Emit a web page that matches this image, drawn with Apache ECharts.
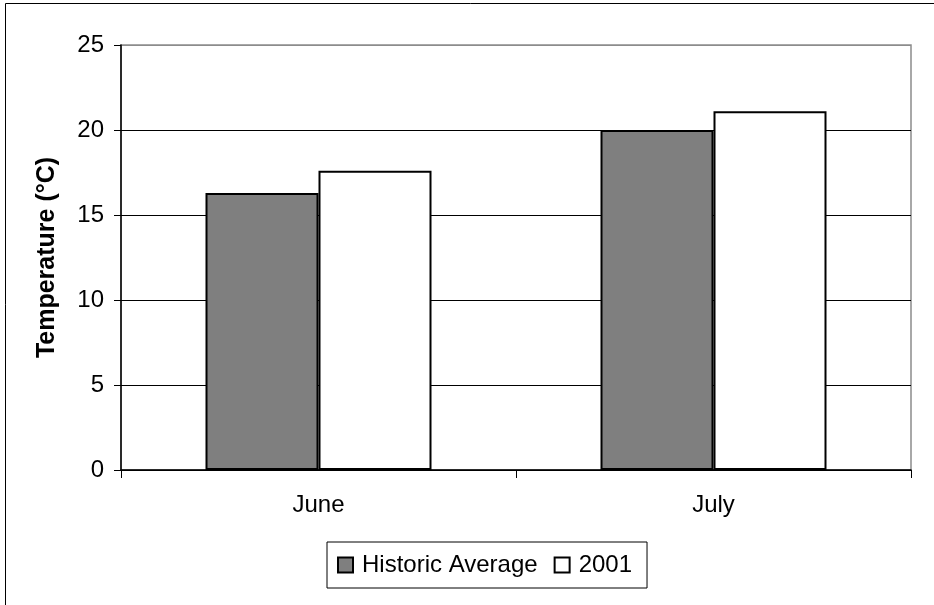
<!DOCTYPE html>
<html>
<head>
<meta charset="utf-8">
<script src="https://cdn.jsdelivr.net/npm/echarts@6/dist/echarts.min.js"></script>
<style>
  html, body { margin: 0; padding: 0; background: #fff; }
  #chart { width: 934px; height: 605px; }
</style>
</head>
<body>
<div id="chart"></div>
<script>
// Monthly mean temperatures
const months = ['June', 'July'];
const historicAverage = [16.3, 20.0];
const year2001 = [17.6, 21.1];
const yTicks = { min: 0, max: 25, interval: 5 };

const FONT = '"Liberation Sans", Arial, sans-serif';

const chart = echarts.init(document.getElementById('chart'), null, { renderer: 'canvas' });

chart.setOption({
  animation: false,
  backgroundColor: '#ffffff',
  textStyle: { fontFamily: FONT, color: '#000' },
  graphic: [{
    type: 'rect',
    shape: { x: 5.5, y: 3.5, width: 1000, height: 1000 },
    style: { fill: 'none', stroke: '#000', lineWidth: 1 },
    silent: true,
    z: 100
  }],
  grid: {
    left: 121, right: 23, top: 45, bottom: 135,
    show: true,
    borderColor: '#8c8c8c',
    borderWidth: 1.5
  },
  legend: {
    left: 327, top: 542,
    padding: [11, 15, 11, 10],
    borderColor: '#000',
    borderWidth: 1,
    itemWidth: 15, itemHeight: 15,
    itemGap: 16,
    icon: 'rect',
    textStyle: { fontFamily: FONT, fontSize: 24, color: '#000', padding: [0, 0, 0, 4] },
    data: ['Historic Average', '2001']
  },
  xAxis: {
    type: 'category',
    data: months,
    axisLine: { lineStyle: { color: '#000', width: 1.5 } },
    axisTick: { show: true, length: 8, lineStyle: { color: '#000' } },
    axisLabel: { fontFamily: FONT, fontSize: 24, color: '#000', margin: 23 }
  },
  yAxis: {
    type: 'value',
    min: yTicks.min, max: yTicks.max, interval: yTicks.interval,
    name: 'Temperature (°C)',
    nameLocation: 'middle',
    nameRotate: 90,
    nameGap: 61,
    nameTextStyle: { fontFamily: FONT, fontSize: 25, fontWeight: 'bold', color: '#000' },
    axisLine: { show: true, lineStyle: { color: '#000', width: 1.5 } },
    axisTick: { show: true, length: 7, lineStyle: { color: '#000' } },
    axisLabel: { fontFamily: FONT, fontSize: 24, color: '#000', margin: 17 },
    splitLine: {
      show: true,
      lineStyle: { color: ['#000', '#000', '#000', '#000', '#000', '#8c8c8c'], width: 1 }
    }
  },
  series: [
    {
      name: 'Historic Average',
      type: 'bar',
      data: historicAverage,
      barWidth: 113,
      barGap: '0%',
      itemStyle: { color: '#7f7f7f', borderColor: '#000', borderWidth: 2 }
    },
    {
      name: '2001',
      type: 'bar',
      data: year2001,
      barWidth: 113,
      barGap: '0%',
      itemStyle: { color: '#ffffff', borderColor: '#000', borderWidth: 2 }
    }
  ]
});
</script>
</body>
</html>
